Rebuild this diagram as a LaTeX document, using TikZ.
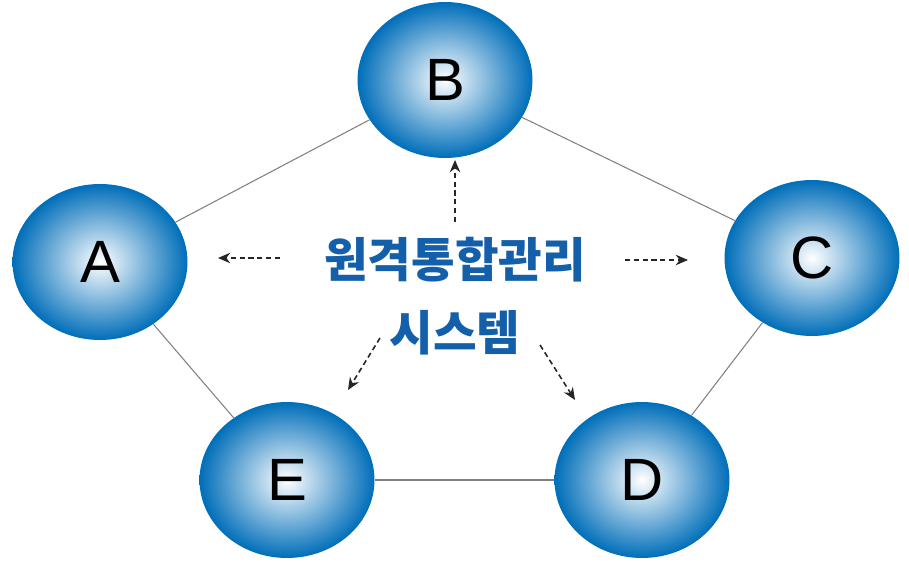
\documentclass[tikz,border=0pt]{standalone}
\usepackage{fontspec}
\setmainfont{Liberation Sans}
\newfontfamily\cjk{Noto Sans CJK KR}
\usetikzlibrary{shapes.geometric,shadings,arrows.meta}
\definecolor{sysblue}{RGB}{0,110,185}
\definecolor{txtblue}{RGB}{20,95,170}
\begin{document}
\begin{tikzpicture}[x=0.02cm,y=-0.02cm,
        station/.style={ellipse,minimum width=3.5cm,minimum height=3.12cm,inner sep=0pt,
            inner color=white,outer color=sysblue,font=\fontsize{34}{36}\selectfont},
        link/.style={gray,line width=0.6pt},
        pointer/.style={densely dashed,line width=0.9pt,-{Stealth[length=7pt,width=6pt]},black!85}]
        \useasboundingbox (0,0) rectangle (909,563);
        \node[station] (B) at (445,80) {B};
        \node[station] (A) at (100,262) {A};
        \node[station] (C) at (812,258) {C};
        \node[station] (E) at (287,480) {E};
        \node[station] (D) at (642,480) {D};
        \draw[link] (A) -- (B);
        \draw[link] (B) -- (C);
        \draw[link] (C) -- (D);
        \draw[link] (D) -- (E);
        \draw[link] (E) -- (A);
        \node[font=\cjk\bfseries\fontsize{27}{30}\selectfont,text=txtblue] (sys1) at (455,260) {원격통합관리};
        \node[font=\cjk\bfseries\fontsize{27}{30}\selectfont,text=txtblue] (sys2) at (455,333) {시스템};
        \coordinate (tB) at (455,160);
        \coordinate (tA) at (218,258);
        \coordinate (tC) at (688,260);
        \coordinate (tE) at (348,390);
        \coordinate (tD) at (575,400);
        \draw[pointer] (455,222) -- (tB);
        \draw[pointer] (280,258) -- (tA);
        \draw[pointer] (625,260) -- (tC);
        \draw[pointer] (380,338) -- (tE);
        \draw[pointer] (540,345) -- (tD);
\end{tikzpicture}
\end{document}
